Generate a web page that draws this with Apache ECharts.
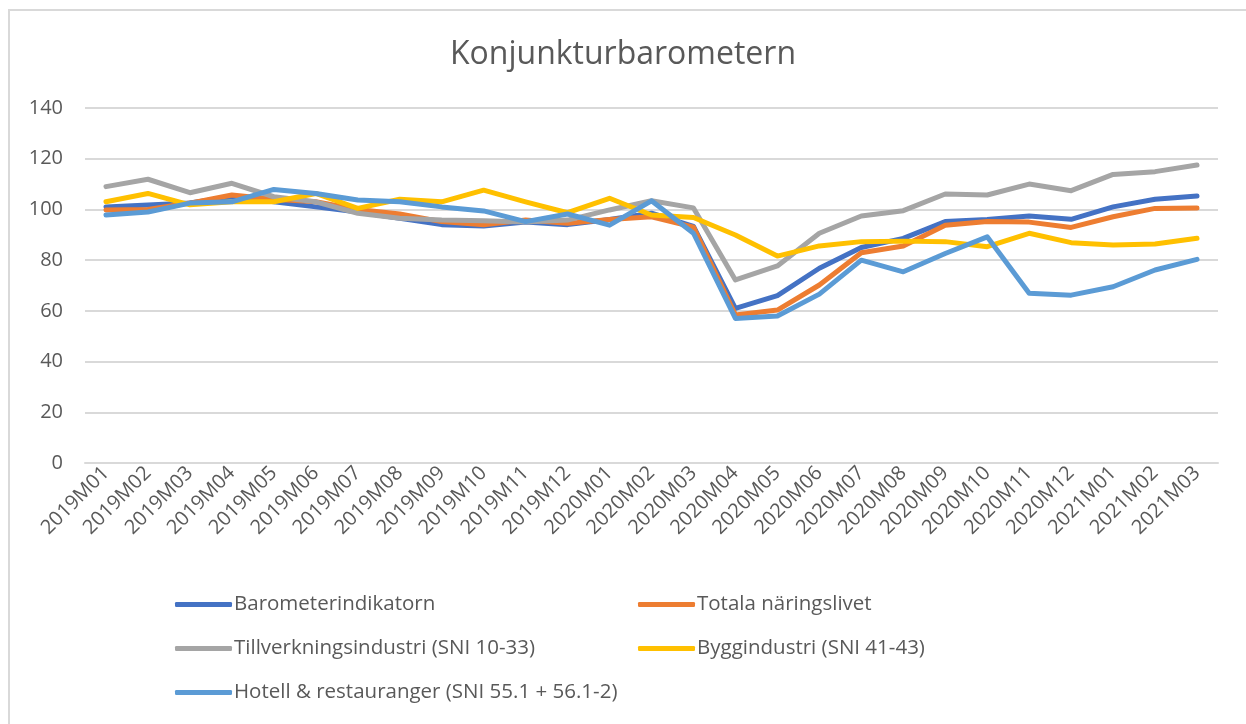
<!DOCTYPE html>
<html>
<head>
<meta charset="utf-8">
<script src="https://cdn.jsdelivr.net/npm/echarts@6/dist/echarts.min.js"></script>
<style>
html,body{margin:0;padding:0;background:#fff;}
#frame{position:absolute;left:8px;top:9px;width:1250px;height:730px;border:2px solid #d9d9d9;box-sizing:border-box;}
#chart{position:absolute;left:0;top:0;width:1246px;height:724px;}
</style>
</head>
<body>
<div id="frame"></div>
<div id="chart"></div>
<script>
const categories = ['2019M01','2019M02','2019M03','2019M04','2019M05','2019M06','2019M07','2019M08','2019M09','2019M10','2019M11','2019M12',
  '2020M01','2020M02','2020M03','2020M04','2020M05','2020M06','2020M07','2020M08','2020M09','2020M10','2020M11','2020M12',
  '2021M01','2021M02','2021M03'];
const barometer = [101,101.7,102.5,105,103,101,99,96.5,94,93.5,95,94,96,98.5,93.3,61,66,76.8,85,88.6,95.2,96,97.4,96.1,101,104,105.3];
const totala = [99.8,100,102.5,105.7,104,103,100,98.2,95.2,94,95.8,94.5,96,97.1,93,58.4,60.3,70.2,82.9,85.6,93.8,95.2,95,92.9,97.1,100.4,100.6];
const tillverkning = [109,111.9,106.6,110.3,105,103,98.5,96.5,95.8,95.5,95,95.8,99.8,103.4,100.6,72.2,77.7,90.6,97.4,99.5,106.1,105.7,110,107.4,113.8,114.9,117.5];
const bygg = [103,106.3,101.8,103,103,106.3,100.4,104,103,107.6,103,98.7,104.4,97.8,96.8,89.9,81.6,85.6,87.3,87.5,87.3,85.3,90.6,86.9,86,86.4,88.6];
const hotell = [97.8,99,102.5,103,107.9,106.3,103.7,103,101,99.4,95.2,98.2,93.8,103.4,90.6,57,58,66.6,80,75.4,82.6,89.2,66.9,66.2,69.5,76.1,80.3];
const seriesNames = ['Barometerindikatorn','Totala näringslivet','Tillverkningsindustri (SNI 10-33)','Byggindustri (SNI 41-43)','Hotell & restauranger (SNI 55.1 + 56.1-2)'];
const seriesData = [barometer, totala, tillverkning, bygg, hotell];
const colors = ['#4472C4','#ED7D31','#A5A5A5','#FFC000','#5B9BD5'];

const font = '"Open Sans", sans-serif';
const legendPos = [[175,594],[638,594],[175,638],[638,638],[175,682]];
const chart = echarts.init(document.getElementById('chart'));
chart.setOption({
  animation:false,
  color: colors,
  title:{text:'Konjunkturbarometern',left:'center',top:39,padding:0,textStyle:{fontFamily:font,fontSize:32,fontWeight:'normal',color:'#595959'}},
  legend: seriesNames.map((n,i)=>({
    data:[n], left:legendPos[i][0], top:legendPos[i][1], padding:0, icon:'roundRect', itemWidth:57, itemHeight:5, itemGap:0,
    textStyle:{fontFamily:font,fontSize:20.5,color:'#595959',padding:[0,0,0,-3]}
  })),
  grid:{left:85,right:28,top:108,bottom:261,containLabel:false},
  xAxis:{type:'category',data:categories,boundaryGap:true,
    axisLine:{show:true,lineStyle:{color:'#d9d9d9',width:2}},axisTick:{show:false},
    axisLabel:{rotate:45,interval:0,fontFamily:font,fontSize:20,color:'#595959',margin:7}},
  yAxis:{type:'value',min:0,max:140,interval:20,
    axisLine:{show:false},axisTick:{show:false},
    splitLine:{lineStyle:{color:'#d9d9d9',width:2}},
    axisLabel:{fontFamily:font,fontSize:20,color:'#595959',margin:22}},
  series: seriesNames.map((n,i)=>({
    name:n,type:'line',data:seriesData[i],symbol:'none',
    lineStyle:{width:5,color:colors[i],cap:'round',join:'round'},
    itemStyle:{color:colors[i]}
  }))
});
</script>
</body>
</html>
